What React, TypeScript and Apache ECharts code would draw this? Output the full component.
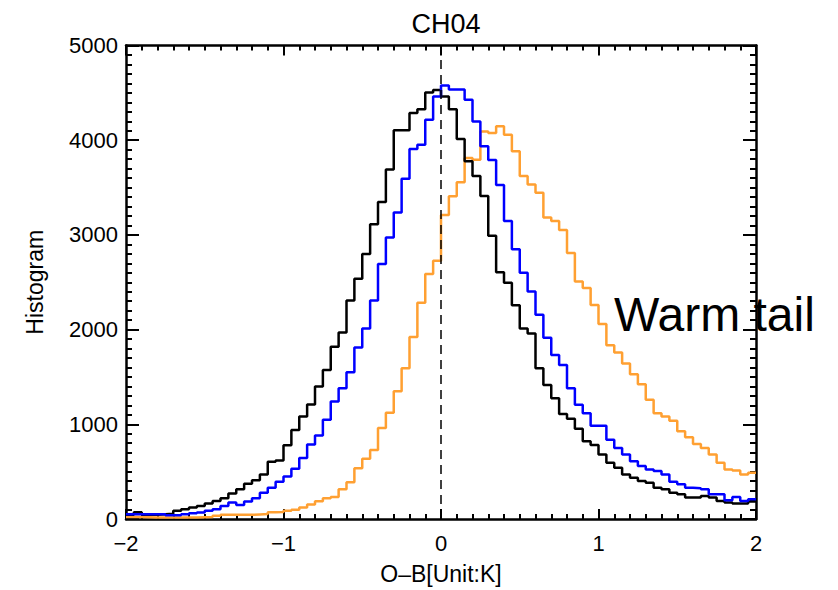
import React, { useEffect, useRef } from "react";
import * as echarts from "echarts";

// Histogram bins: left edges start at -2 with width 0.05 (80 bins up to 2)
const binStart = -2;
const binWidth = 0.05;
const binCount = 80;

const blackCounts = [
  45, 70, 45, 45, 50, 55, 86, 103, 121, 138,
  163, 191, 219, 268, 313, 373, 408, 471, 604, 617,
  780, 940, 1083, 1210, 1400, 1573, 1818, 1969, 2308, 2536,
  2798, 3113, 3348, 3691, 4104, 4104, 4286, 4328, 4503, 4531,
  4461, 4328, 4013, 3778, 3621, 3411, 2991, 2606, 2494, 2256,
  2011, 1960, 1591, 1416, 1276, 1108, 1059, 954, 821, 781,
  681, 593, 541, 471, 436, 401, 383, 331, 313, 278,
  261, 226, 226, 243, 226, 191, 173, 163, 163, 184,
];

const blueCounts = [
  50, 50, 50, 50, 50, 40, 40, 50, 60, 68,
  86, 103, 138, 173, 149, 184, 219, 278, 331, 394,
  450, 530, 643, 786, 882, 1048, 1241, 1381, 1549, 1810,
  2011, 2308, 2693, 2973, 3236, 3593, 3908, 3953, 4216, 4461,
  4578, 4536, 4536, 4426, 4198, 3936, 3790, 3528, 3148, 2848,
  2600, 2403, 2158, 1913, 1731, 1626, 1381, 1206, 1118, 985,
  985, 838, 751, 681, 611, 559, 523, 506, 471, 394,
  366, 331, 324, 313, 261, 261, 198, 233, 191, 208,
];

const orangeCounts = [
  20, 20, 18, 15, 15, 15, 15, 15, 15, 18,
  20, 33, 44, 44, 44, 44, 48, 52, 72, 75,
  86, 98, 121, 152, 188, 219, 233, 313, 387, 535,
  635, 728, 961, 1123, 1350, 1591, 1923, 2284, 2588, 2728,
  3210, 3408, 3555, 3813, 3793, 4093, 4076, 4146, 4058, 3883,
  3621, 3533, 3446, 3184, 3148, 3053, 2809, 2508, 2438, 2260,
  2060, 1836, 1759, 1643, 1528, 1423, 1258, 1118, 1083, 1038,
  926, 863, 793, 751, 681, 593, 523, 513, 471, 488,
];

const xTicks = [-2, -1, 0, 1, 2];
const yTicks = [0, 1000, 2000, 3000, 4000, 5000];

const FONT = "'Liberation Sans', Arial, Helvetica, sans-serif";

function stepData(counts: number[]) {
  const pts: [number, number][] = [];
  for (let i = 0; i < binCount; i++) {
    const x = +(binStart + i * binWidth).toFixed(4);
    pts.push([x, counts[i]]);
  }
  pts.push([+(binStart + binCount * binWidth).toFixed(4), counts[binCount - 1]]);
  return pts;
}

export default function App() {
  const ref = useRef<HTMLDivElement>(null);
  useEffect(() => {
    if (!ref.current) return;
    const chart = echarts.init(ref.current, undefined, { renderer: "svg" });
    const axisLine = { show: true, onZero: false, lineStyle: { color: "#000", width: 2.5 } };
    const xTickCommon = {
      axisLine,
      axisTick: { show: true, inside: true, length: 10, lineStyle: { color: "#000", width: 2 } },
      minorTick: { show: true, splitNumber: 10, length: 5, lineStyle: { color: "#000", width: 2 } },
      splitLine: { show: false },
      minorSplitLine: { show: false },
    };
    const yTickCommon = {
      axisLine,
      axisTick: { show: true, inside: true, length: 13, lineStyle: { color: "#000", width: 2 } },
      minorTick: { show: true, splitNumber: 10, length: 6, lineStyle: { color: "#000", width: 2 } },
      splitLine: { show: false },
      minorSplitLine: { show: false },
    };
    const xMin = xTicks[0];
    const xMax = xTicks[xTicks.length - 1];
    const yMin = yTicks[0];
    const yMax = yTicks[yTicks.length - 1];
    const line = (name: string, counts: number[], color: string, extra: any = {}) => ({
      name,
      type: "line",
      step: "end",
      data: stepData(counts),
      showSymbol: false,
      symbol: "none",
      lineStyle: { color, width: 2.5 },
      itemStyle: { color },
      xAxisIndex: 0,
      yAxisIndex: 0,
      ...extra,
    });
    chart.setOption({
      animation: false,
      backgroundColor: "#fff",
      title: {
        text: "CH04",
        left: 441,
        top: 5,
        textAlign: "center",
        textStyle: { fontFamily: FONT, fontSize: 27, fontWeight: "normal", color: "#000" },
      },
      grid: { left: 126, right: 82, top: 45.5, bottom: 68.5, containLabel: false },
      xAxis: [
        {
          type: "value",
          position: "bottom",
          min: xMin,
          max: xMax,
          interval: 1,
          ...xTickCommon,
          axisLabel: {
            show: true,
            margin: 13,
            fontSize: 22,
            fontFamily: FONT,
            color: "#000",
            formatter: (v: number) => String(v).replace("-", "\u2212"),
          },
          name: "O\u2013B[Unit:K]",
          nameLocation: "middle",
          nameGap: 43,
          nameTextStyle: { fontFamily: FONT, fontSize: 23, color: "#000" },
        },
        {
          type: "value",
          position: "top",
          min: xMin,
          max: xMax,
          interval: 1,
          ...xTickCommon,
          axisLabel: { show: false },
        },
      ],
      yAxis: [
        {
          type: "value",
          position: "left",
          min: yMin,
          max: yMax,
          interval: 1000,
          ...yTickCommon,
          axisLabel: {
            show: true,
            margin: 8,
            fontSize: 22,
            fontFamily: FONT,
            color: "#000",
            formatter: (v: number) => String(v),
          },
          name: "Histogram",
          nameLocation: "middle",
          nameGap: 80,
          nameTextStyle: { fontFamily: FONT, fontSize: 23, color: "#000" },
        },
        {
          type: "value",
          position: "right",
          min: yMin,
          max: yMax,
          interval: 1000,
          ...yTickCommon,
          axisLabel: { show: false },
        },
      ],
      series: [
        line("orange", orangeCounts, "#ffa032"),
        line("black", blackCounts, "#000000", {
          markLine: {
            silent: true,
            symbol: "none",
            label: { show: false },
            lineStyle: { color: "#000", type: [9, 6], width: 1.5 },
            data: [{ xAxis: 0 }],
          },
        }),
        line("blue", blueCounts, "#0000ff"),
      ],
      graphic: [
        {
          type: "text",
          x: 614,
          y: 314,
          z: 100,
          style: {
            text: "Warm tail",
            fontFamily: FONT,
            fontSize: 48,
            fill: "#000",
            verticalAlign: "middle",
            align: "left",
          },
        },
      ],
    });
    return () => chart.dispose();
  }, []);
  return (
    <div
      ref={ref}
      style={{ position: "fixed", left: 0, top: 0, width: 838, height: 590, background: "#fff" }}
    />
  );
}
